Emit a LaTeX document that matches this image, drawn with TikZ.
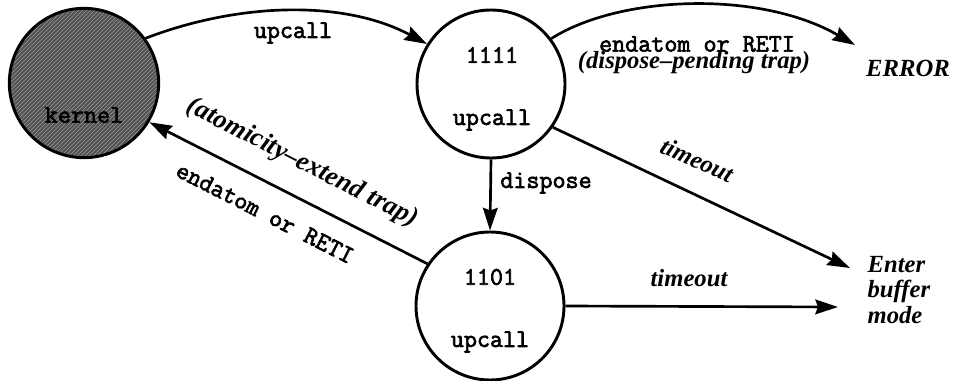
\documentclass[tikz,border=0pt]{standalone}
\usepackage{fontspec}
\setmainfont{Liberation Serif}
\newfontfamily\courtt[FakeBold=2.6]{Latin Modern Mono}
\usetikzlibrary{arrows.meta,patterns}

\tikzset{
  state/.style={circle, draw, line width=2.2pt, minimum size=111pt, inner sep=0pt},
  kernstate/.style={state, minimum size=112pt,
    preaction={fill=black!68}, pattern=north east lines, pattern color=black!40},
  conn/.style={line width=2pt, -{Stealth[length=17pt, width=11pt, inset=2pt]}},
  mono/.style={font=\fontsize{19}{21}\selectfont\courtt, inner sep=1pt},
  ital/.style={font=\fontsize{18.5}{20}\selectfont\bfseries\itshape, inner sep=1pt},
  italbig/.style={font=\fontsize{20}{22}\selectfont\bfseries\itshape, inner sep=1pt},
}

\begin{document}
\begin{tikzpicture}[x=0.75pt, y=-0.75pt]
  \useasboundingbox (0,0) rectangle (956,381);

  % states
  \node[kernstate] (kern) at (84,83) {};
  \node[mono, text=black] (kernlbl) at (84,115) {kernel};
  \node[state] (s1111) at (491,84) {};
  \node[mono] (c1111) at (492,55) {1111};
  \node[mono] (u1111) at (492,120) {upcall};
  \node[state] (s1101) at (490,306) {};
  \node[mono] (c1101) at (490,277) {1101};
  \node[mono] (u1101) at (490,342) {upcall};

  % free ends
  \coordinate (errtip) at (855,45);
  \coordinate (buftipA) at (850,268);
  \coordinate (buftipB) at (838,307);

  % outcomes
  \node[ital] (err) at (908,68) {ERROR};
  \node[ital, anchor=west, align=left] (buf) at (866,290) {Enter\\[-1pt]buffer\\[-1pt]mode};

  % transitions
  \draw[conn] (kern.36) .. controls (240,2) and (345,0) .. (s1111.148);
  \node[mono] (lup) at (293,33) {upcall};

  \draw[conn] (s1111.37) .. controls (620,-5) and (760,-10) .. (errtip);
  \node[mono] (lend1) at (697,44) {endatom or RETI};
  \node[ital] (lend2) at (694,63) {(dispose–pending trap)};

  \draw[conn] (s1111.-35) -- (buftipA);
  \node[ital, rotate=-24] (lto1) at (697,160) {timeout};

  \draw[conn] (s1111.south) -- (s1101.north);
  \node[mono] (ldisp) at (546,183) {dispose};

  \draw[conn] (s1101.east) -- (buftipB);
  \node[ital] (lto2) at (689,278) {timeout};

  \draw[conn] (s1101.146) -- (kern.-31);
  \node[italbig, rotate=-27] (latom) at (302,163) {(atomicity–extend trap)};
  \node[mono, rotate=-27] (lend3) at (265,213) {endatom or RETI};
\end{tikzpicture}
\end{document}
